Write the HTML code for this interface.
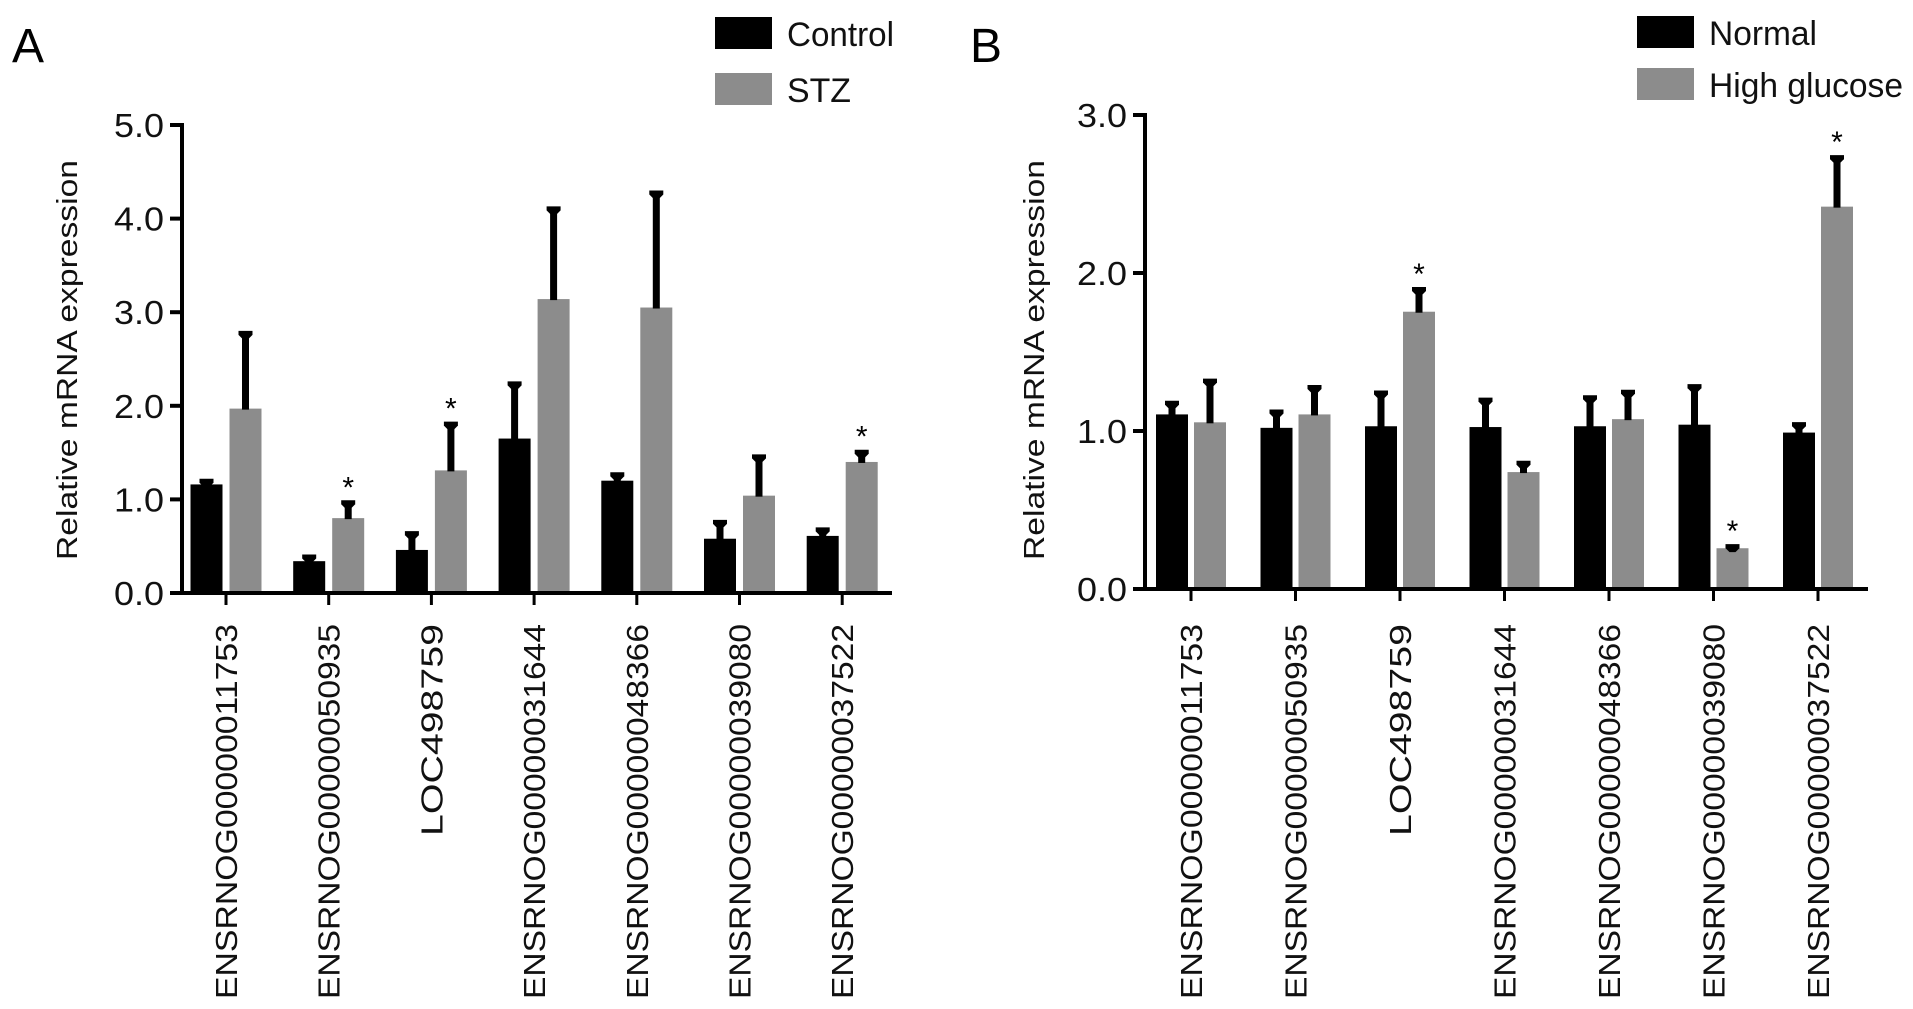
<!DOCTYPE html>
<html><head><meta charset="utf-8"><style>
html,body{margin:0;padding:0;background:#fff;}
svg{display:block;font-family:"Liberation Sans",Arial,sans-serif;}
</style></head><body>
<svg id="fig" width="1913" height="1009" viewBox="0 0 1913 1009" xmlns="http://www.w3.org/2000/svg"></svg>
<script>
const categories=["ENSRNOG00000011753","ENSRNOG00000050935","LOC498759","ENSRNOG00000031644","ENSRNOG00000048366","ENSRNOG00000039080","ENSRNOG00000037522"];
const controlVals=[1.16,0.34,0.46,1.65,1.20,0.58,0.61];
const controlErr=[0.05,0.06,0.19,0.60,0.08,0.19,0.08];
const stzVals=[1.97,0.80,1.31,3.14,3.05,1.04,1.40];
const stzErr=[0.82,0.18,0.51,0.98,1.24,0.43,0.12];
const stzStar=[false,true,true,false,false,false,true];
const ticksA=[0,1,2,3,4,5];
const normalVals=[1.105,1.02,1.03,1.025,1.03,1.04,0.99];
const normalErr=[0.08,0.11,0.22,0.18,0.19,0.25,0.06];
const hgVals=[1.055,1.105,1.755,0.74,1.075,0.258,2.42];
const hgErr=[0.27,0.18,0.15,0.065,0.18,0.02,0.32];
const hgStar=[false,false,true,false,false,true,true];
const ticksB=[0,1,2,3];

const NS="http://www.w3.org/2000/svg";
const svg=document.getElementById('fig');
function mk(tag,attrs,parent){const e=document.createElementNS(NS,tag);for(const k in attrs)e.setAttribute(k,attrs[k]);(parent||svg).appendChild(e);return e;}

function panel(cfg){
  const g=mk('g',{});
  
  
  const y=v=>cfg.y0-(v/cfg.ymax)*(cfg.y0-cfg.yTop);
  const xc=i=>cfg.x1+i*cfg.step;
  const L=mk('text',{x:cfg.letterX,y:62,'font-size':48,fill:'#000'},g);L.textContent=cfg.letter;
  
  
  const series=[{v:cfg.s1,e:cfg.e1,c:'#000',off:-cfg.bw-cfg.gap/2,st:null,n:'black'},{v:cfg.s2,e:cfg.e2,c:'#8c8c8c',off:cfg.gap/2,st:cfg.star,n:'gray'}];
  series.forEach(s=>{
    s.v.forEach((val,i)=>{
      const bx=xc(i)+s.off;
      const r=mk('rect',{x:bx,y:y(val),width:cfg.bw,height:cfg.y0-y(val),fill:s.c},g);
      
      
      const cx=bx+cfg.bw/2, top=y(val+s.e[i]);
      const eb=mk('g',{},g);
      
      
      mk('rect',{x:cx-3.5,y:top,width:7,height:y(val)-top+1,fill:'#000'},eb);
      mk('path',{d:`M${cx-7},${top-1} L${cx+7},${top-1} L${cx+7},${top+3} L${cx+3},${top+7} L${cx-3},${top+7} L${cx-7},${top+3}Z`,fill:'#000'},eb);
      if(s.st&&s.st[i]){const t=mk('text',{x:cx,y:top-4,'font-size':30,'text-anchor':'middle',fill:'#000'},g);t.textContent='*';
        
        }
    });
  });
  const ax=mk('g',{},g);
  
  
  mk('line',{x1:cfg.ax,y1:cfg.yTop-2,x2:cfg.ax,y2:cfg.y0+2,stroke:'#000','stroke-width':4},ax);
  cfg.ticks.forEach(t=>{
    mk('line',{x1:cfg.ax-12,y1:y(t),x2:cfg.ax,y2:y(t),stroke:'#000','stroke-width':4},ax);
    const tl=mk('text',{x:cfg.ax-18,y:y(t)+12,'font-size':33,'text-anchor':'end',fill:'#111',textLength:50,lengthAdjust:'spacingAndGlyphs'},ax);
    tl.textContent=t.toFixed(1);
    
    
  });
  const xa=mk('g',{},g);
  
  
  mk('line',{x1:cfg.ax-2,y1:cfg.y0,x2:cfg.xEnd,y2:cfg.y0,stroke:'#000','stroke-width':4},xa);
  categories.forEach((c,i)=>{
    mk('line',{x1:xc(i),y1:cfg.y0,x2:xc(i),y2:cfg.y0+12,stroke:'#000','stroke-width':3},xa);
    const len=c.length>10?375:212;
    const t=mk('text',{transform:`translate(${xc(i)+11},624) rotate(-90)`,'font-size':31,'text-anchor':'end',fill:'#111',textLength:len,lengthAdjust:'spacingAndGlyphs'},xa);
    t.textContent=c;
    
    
  });
  const yt=mk('text',{transform:`translate(${cfg.titleX},360) rotate(-90)`,'font-size':29,'text-anchor':'middle',fill:'#111',textLength:400,lengthAdjust:'spacingAndGlyphs'},g);
  yt.textContent='Relative mRNA expression';
  
  
  cfg.legend.forEach((l,k)=>{
    const lg=mk('g',{},g);
    
    
    mk('rect',{x:cfg.legX,y:cfg.legY[k],width:57,height:32,fill:k?'#8c8c8c':'#000'},lg);
    const t=mk('text',{x:cfg.legX+72,y:cfg.legY[k]+29,'font-size':34,fill:'#111',textLength:l[1],lengthAdjust:'spacingAndGlyphs'},lg);
    t.textContent=l[0];
  });
}
panel({id:'panel-a',letter:'A',letterX:12,ax:182,xEnd:892,x1:226,step:102.7,bw:32,gap:7,y0:593,yTop:125,ymax:5,ticks:ticksA,
  s1:controlVals,e1:controlErr,s2:stzVals,e2:stzErr,star:stzStar,titleX:77,legX:715,legY:[17,73],legend:[['Control',107],['STZ',64]]});
panel({id:'panel-b',letter:'B',letterX:970,ax:1145,xEnd:1868,x1:1191,step:104.5,bw:32,gap:6,y0:589,yTop:115,ymax:3,ticks:ticksB,
  s1:normalVals,e1:normalErr,s2:hgVals,e2:hgErr,star:hgStar,titleX:1044,legX:1637,legY:[16,68],legend:[['Normal',108],['High glucose',194]]});
</script>
</body></html>
